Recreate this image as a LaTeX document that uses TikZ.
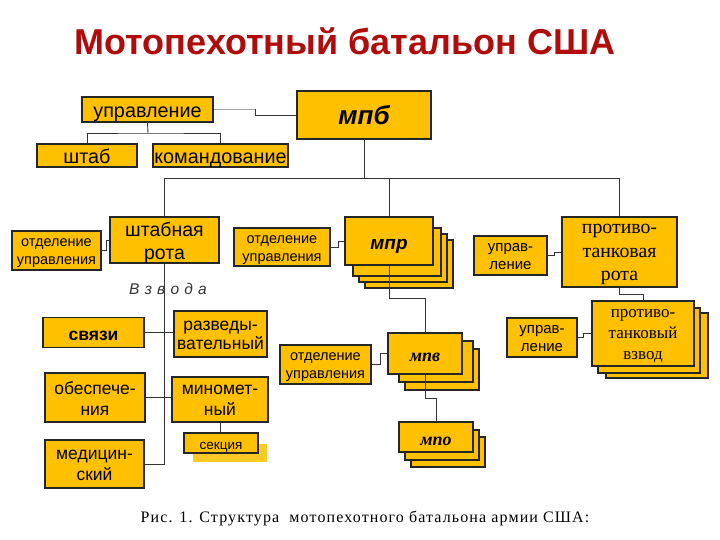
\documentclass[tikz,border=0pt]{standalone}
\usepackage{fontspec}
\setmainfont{Liberation Serif}
\setsansfont{Liberation Sans}
\usetikzlibrary{calc}
\definecolor{boxfill}{HTML}{FFC000}
\definecolor{titlered}{HTML}{B00C0C}
\definecolor{linegray}{HTML}{333333}
\newcommand{\fs}[2]{\fontsize{#1}{#2}\selectfont}
\tikzset{
  box/.style={draw=black!85, fill=boxfill, line width=1.1pt, inner sep=0pt},
  txt/.style={inner sep=0pt, align=center, yshift=-4pt,
              execute at begin node=\strut, execute at end node=\strut},
  ghost/.style={fill=boxfill!85!white, draw=none, inner sep=0pt},
  conn/.style={draw=linegray, line width=0.9pt},
  lightconn/.style={draw=gray!70, line width=0.9pt},
  sz/.style n args={2}{minimum width=#1pt, minimum height=#2pt},
  sfA/.style={font=\sffamily\fs{19.8}{22}},
  sfB/.style={font=\sffamily\fs{17.5}{21}},
  sfS/.style={font=\sffamily\fs{14.5}{18}},
  rmB/.style={font=\rmfamily\bfseries\itshape\fs{18}{21}},
}
\begin{document}
\begin{tikzpicture}[x=1pt,y=-1pt]
\fill[white] (0,0) rectangle (720,540);
\useasboundingbox (0,0) rectangle (720,540);

% title and caption
\node[font=\sffamily\bfseries\fs{36}{40}, text=titlered, anchor=base, inner sep=0pt] (title) at (345,55) {Мотопехотный батальон США};
\node[font=\rmfamily\fs{16}{18}\addfontfeature{LetterSpace=7}, anchor=base, inner sep=0pt] (caption) at (365,522) {Рис. 1. Структура\ \ мотопехотного батальона армии США:};

% top level
\node[box, sz={134}{48}, label={[txt, font=\sffamily\bfseries\itshape\fs{26}{30}]center:мпб}] (mpb) at (364,115) {};
\node[box, sz={131}{25}, label={[txt, sfA]center:управление}] (upr) at (147.5,109.5) {};
\node[box, sz={100}{23}, label={[txt, sfA]center:штаб}] (shtab) at (87,155.5) {};
\node[box, sz={135}{23}, label={[txt, sfA]center:командование}] (komand) at (220.5,155.5) {};

% second level
\node[box, sz={109}{46}, label={[txt, font=\sffamily\fs{19.5}{23}]center:{штабная\\рота}}] (shr) at (164.5,240) {};
\node[box, sz={89}{39}, label={[txt, sfS]center:{отделение\\управления}}] (otd1) at (56.5,250.5) {};
\node[box, sz={96}{38}, label={[txt, sfS]center:{отделение\\управления}}] (otd2) at (282,247) {};

\node[box, sz={88}{48}] (mpr3) at (409,264) {};
\node[box, sz={88}{48}] (mpr2) at (403,258) {};
\node[box, sz={88}{48}] (mpr1) at (397,252) {};
\node[box, sz={88}{48}, label={[txt, font=\sffamily\bfseries\itshape\fs{19}{22}]center:мпр}] (mpr) at (389,241) {};

\node[box, sz={73}{39}, label={[txt, font=\sffamily\fs{15}{18}]center:{управ-\\ление}}] (upr2) at (510.5,255.5) {};
\node[box, sz={115}{70}, label={[txt, font=\rmfamily\fs{19.8}{23.5}]center:{противо-\\танковая\\рота}}] (ptr) at (619.5,252) {};

% platoons of HQ company
\node[font=\sffamily\itshape\fs{15.5}{17}\addfontfeature{LetterSpace=6}, text=black!80, inner sep=0pt] (vzv) at (168,289) {В з в о д а};
\node[box, sz={101}{30}, label={[txt, font=\sffamily\bfseries\fs{17.5}{21}]center:связи}] (svyazi) at (93.5,332.5) {};
\node[box, sz={93}{46}, label={[txt, font=\sffamily\fs{17.5}{19}]center:{разведы-\\вательный}}] (razv) at (220.5,334) {};
\node[box, sz={100}{49}, label={[txt, sfB]center:{обеспече-\\ния}}] (obesp) at (95,397.5) {};
\node[box, sz={96}{45}, label={[txt, sfB]center:{миномет-\\ный}}] (minom) at (220,399.5) {};
\node[box, sz={99}{48}, label={[txt, sfB]center:{медицин-\\ский}}] (med) at (94.5,464) {};
\node[ghost, sz={74}{18}] (sekc2) at (230,452.5) {};
\node[box, sz={74}{20}, label={[txt, yshift=1pt, font=\sffamily\fs{13.5}{16}]center:секция}] (sekc) at (221,443) {};

% motorized infantry platoon / mortar squad
\node[box, sz={74}{41}] (mpv2) at (442,369.5) {};
\node[box, sz={74}{41}] (mpv1) at (436,361.5) {};
\node[box, sz={74}{41}, label={[txt, rmB]center:мпв}] (mpv) at (425,353.5) {};
\node[box, sz={91}{39}, label={[txt, sfS]center:{отделение\\управления}}] (otd3) at (325.5,364.5) {};

\node[box, sz={74}{30}] (mpo2) at (448,452) {};
\node[box, sz={74}{30}] (mpo1) at (442,445) {};
\node[box, sz={74}{30}, label={[txt, rmB]center:мпо}] (mpo) at (436,437) {};

% antitank platoon
\node[box, sz={102}{65}] (ptv2) at (657,345.5) {};
\node[box, sz={102}{65}] (ptv1) at (649,340.5) {};
\node[box, sz={102}{65}, label={[txt, font=\rmfamily\fs{17}{21}]center:{противо-\\танковый\\взвод}}] (ptv) at (643,333.5) {};
\node[box, sz={70}{39}, label={[txt, font=\sffamily\fs{15}{18}]center:{управ-\\ление}}] (upr3) at (542,337.5) {};

% connectors
\coordinate (k1) at (255,109.5);
\draw[lightconn] (upr.east) -- (k1);
\draw[conn] (k1) |- (mpb.west);
\coordinate (k2) at (148,133);
\draw[conn] (upr.south) -- (k2);
\draw[conn] (shtab.north) |- (k2) -| (komand.north);

\coordinate (bus) at (364,178);
\draw[conn] (mpb.south) -- (bus);
\draw[conn] (shr.north) -- (shr.north |- bus) -- (ptr.north |- bus) -- (ptr.north);
\draw[conn] (mpr.north) -- (mpr.north |- bus);

\draw[conn] (otd1.east) -- ++(5,0) |- (shr.west);
\draw[conn] (otd2.east) -- ++(8,0) |- (mpr.west);
\draw[conn] (upr2.east) -- ++(7,0) |- (ptr.west);

\draw[conn] (shr.south) -- (shr.south |- med.east) -- (med.east);
\draw[conn] (svyazi.east) -- (svyazi.east -| razv.west);
\draw[conn] (obesp.east) -- (obesp.east -| minom.west);
\draw[conn] (minom.south) -- (minom.south |- sekc.north);

\draw[conn] (mpr.south) -- ++(0,33) -| (mpv.north);
\draw[conn] (otd3.east) -- ++(9,0) |- (mpv.west);
\draw[conn] (mpv.south) -- ++(0,24) -| (mpo.north);

\draw[conn] (ptr.south) -- ++(0,7) -| (ptv.north);
\draw[conn] (upr3.east) -- ++(6,0) |- (ptv.west);
\end{tikzpicture}
\end{document}
